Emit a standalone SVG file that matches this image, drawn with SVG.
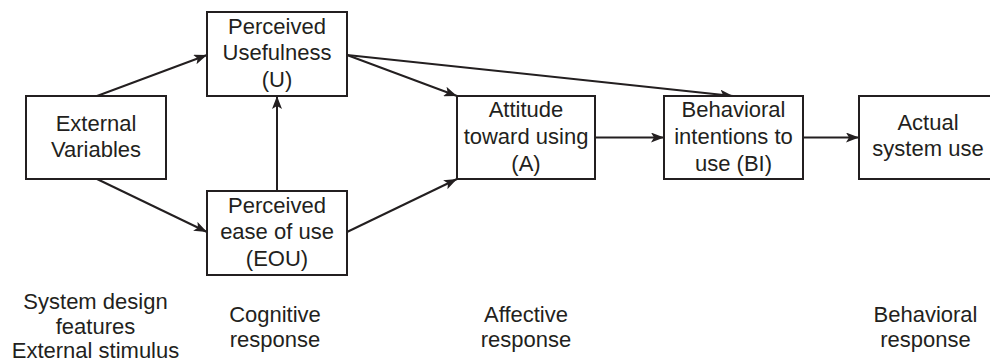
<svg xmlns="http://www.w3.org/2000/svg" width="990" height="362" viewBox="0 0 990 362">
<style>
.box{fill:#fff;stroke:#231f20;stroke-width:2}
.t{font-family:"Liberation Sans",Arial,sans-serif;font-size:22px;fill:#231f20;text-anchor:middle}
.c{fill:none;stroke:#231f20;stroke-width:2;marker-end:url(#ah)}
</style>
<defs>
<marker id="ah" viewBox="0 0 13 10" refX="13" refY="5" markerWidth="13" markerHeight="10" markerUnits="userSpaceOnUse" orient="auto">
<path d="M0,0 L13,5 L0,10 L3,5 z" fill="#231f20"/>
</marker>
</defs>
<rect width="990" height="362" fill="#fff"/>
<g id="connectors">
<line class="c" x1="97" y1="96" x2="207" y2="55"/>
<line class="c" x1="97" y1="179" x2="207" y2="232"/>
<line class="c" x1="277" y1="191" x2="277" y2="96"/>
<line class="c" x1="347" y1="55" x2="457" y2="96"/>
<line class="c" x1="347" y1="55" x2="733" y2="96"/>
<line class="c" x1="347" y1="232" x2="457" y2="179"/>
<line class="c" x1="595" y1="137.5" x2="664" y2="137.5"/>
<line class="c" x1="803" y1="137.5" x2="859" y2="137.5"/>
</g>
<g id="external">
<rect class="box" x="26" y="96" width="140" height="83"/>
<text class="t" x="96" y="131">External</text>
<text class="t" x="96" y="157">Variables</text>
</g>
<g id="pu">
<rect class="box" x="207" y="12" width="140" height="84"/>
<text class="t" x="277" y="33.5">Perceived</text>
<text class="t" x="277" y="60">Usefulness</text>
<text class="t" x="277" y="87">(U)</text>
</g>
<g id="peou">
<rect class="box" x="207" y="191" width="140" height="84"/>
<text class="t" x="277" y="212.5">Perceived</text>
<text class="t" x="277" y="239">ease of use</text>
<text class="t" x="277" y="266">(EOU)</text>
</g>
<g id="attitude">
<rect class="box" x="457" y="96" width="138" height="83"/>
<text class="t" x="526" y="117">Attitude</text>
<text class="t" x="526" y="144">toward using</text>
<text class="t" x="526" y="170.5">(A)</text>
</g>
<g id="bi">
<rect class="box" x="664" y="96" width="139" height="83"/>
<text class="t" x="733.5" y="117">Behavioral</text>
<text class="t" x="733.5" y="144">intentions to</text>
<text class="t" x="733.5" y="170.5">use (BI)</text>
</g>
<g id="actual">
<rect class="box" x="859" y="96" width="139" height="83"/>
<text class="t" x="928" y="130">Actual</text>
<text class="t" x="928" y="155.5">system use</text>
</g>
<g id="labels">
<text class="t" x="95.5" y="309">System design</text>
<text class="t" x="95.5" y="334">features</text>
<text class="t" x="95.5" y="358">External stimulus</text>
<text class="t" x="275" y="322">Cognitive</text>
<text class="t" x="275" y="347">response</text>
<text class="t" x="526" y="322">Affective</text>
<text class="t" x="526" y="347">response</text>
<text class="t" x="925.5" y="322">Behavioral</text>
<text class="t" x="925.5" y="347">response</text>
</g>
</svg>
